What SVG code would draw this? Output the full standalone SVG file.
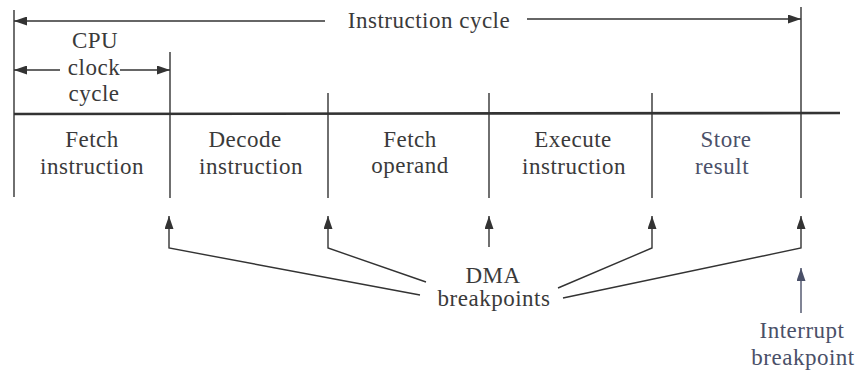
<svg xmlns="http://www.w3.org/2000/svg" width="860" height="374" viewBox="0 0 860 374">
<style>
text{font-family:"Liberation Serif","Times New Roman",serif;font-size:23px;letter-spacing:0.5px;fill:#3a3a3a;text-anchor:middle;}
.b{fill:#4a5068;}
.ln{stroke:#333;stroke-width:1.4;fill:none;}
.main{stroke:#333;stroke-width:2.6;fill:none;}
.ar{stroke:#333;stroke-width:1.4;fill:none;marker-end:url(#ah);}
.arb{stroke:#4a5068;stroke-width:1.4;fill:none;marker-end:url(#ahb);}
</style>
<defs>
<marker id="ah" markerUnits="userSpaceOnUse" markerWidth="13" markerHeight="9" refX="13" refY="4.5" orient="auto">
<path d="M0,0 L13,4.5 L0,9 z" fill="#333"/>
</marker>
<marker id="ahb" markerUnits="userSpaceOnUse" markerWidth="13" markerHeight="9" refX="13" refY="4.5" orient="auto">
<path d="M0,0 L13,4.5 L0,9 z" fill="#4a5068"/>
</marker>
</defs>
<rect width="860" height="374" fill="#fff"/>

<g id="timeline">
<line class="main" x1="14" y1="114" x2="840" y2="113"/>
<line class="ln" x1="14" y1="10" x2="14" y2="197"/>
<line class="ln" x1="170" y1="52" x2="170" y2="198"/>
<line class="ln" x1="328" y1="93" x2="328" y2="198"/>
<line class="ln" x1="489" y1="93" x2="489" y2="198"/>
<line class="ln" x1="652" y1="93" x2="652" y2="198"/>
<line class="ln" x1="801" y1="7" x2="801" y2="198"/>
</g>

<g id="instruction-cycle">
<text x="429" y="28">Instruction cycle</text>
</g>

<g id="cpu-clock-cycle">
<text x="95" y="48">CPU</text>
<text x="94" y="75">clock</text>
<text x="94" y="101">cycle</text>
</g>

<g id="fetch-instruction">
<text x="92" y="147">Fetch</text>
<text x="92" y="174">instruction</text>
</g>

<g id="decode-instruction">
<text x="245" y="147">Decode</text>
<text x="251" y="174">instruction</text>
</g>

<g id="fetch-operand">
<text x="410" y="147">Fetch</text>
<text x="410" y="173">operand</text>
</g>

<g id="execute-instruction">
<text x="573" y="147">Execute</text>
<text x="574" y="174">instruction</text>
</g>

<g id="store-result">
<text class="b" x="726" y="147">Store</text>
<text class="b" x="722" y="174">result</text>
</g>

<g id="dma-breakpoints">
<text x="493" y="283">DMA</text>
<text x="494" y="306">breakpoints</text>
</g>

<g id="interrupt-breakpoint">
<text class="b" x="802" y="338">Interrupt</text>
<text class="b" x="803" y="365">breakpoint</text>
</g>

<g id="connectors">
<path class="ar" d="M325,21 L14,21"/>
<path class="ar" d="M527,19 L801,19"/>
<path class="ar" d="M60,70 L14,70"/>
<path class="ar" d="M120,70 L170,70"/>
<path class="ar" d="M420,295 L169,248 L169,216"/>
<path class="ar" d="M426,282 L328,248 L328,216"/>
<path class="ar" d="M489,247 L489,216"/>
<path class="ar" d="M558,288 L652,248 L652,216"/>
<path class="ar" d="M563,298 L801,248 L801,216"/>
<path class="arb" d="M801,313 L801,268"/>
</g>
</svg>
